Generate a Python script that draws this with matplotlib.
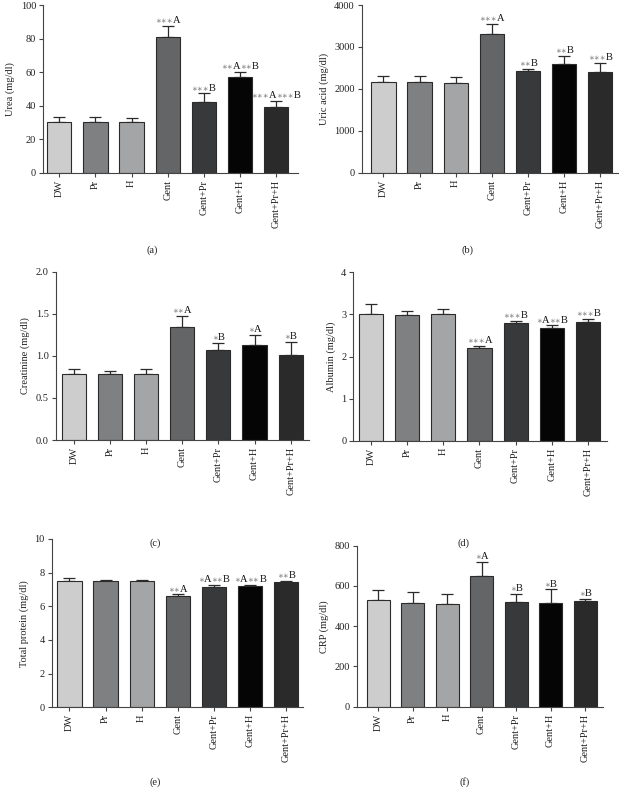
import matplotlib
matplotlib.use("Agg")
import matplotlib.pyplot as plt
from matplotlib.offsetbox import TextArea, HPacker, AnnotationBbox

groups = ["DW", "Pr", "H", "Gent", "Gent+Pr", "Gent+H", "Gent+Pr+H"]
bar_colors = ["#cdcdcd", "#7e8081", "#a3a5a6", "#646567", "#38393b", "#050505", "#2a2a2b"]

urea = [30, 30, 30, 80.7, 42.3, 56.8, 39]
urea_err = [3, 3, 2.5, 7, 5, 3.5, 4]
urea_sig = ["", "", "", "***A", "***B", "**A**B", "***A***B"]

uric = [2170, 2155, 2140, 3305, 2415, 2585, 2400]
uric_err = [135, 150, 140, 250, 65, 205, 215]
uric_sig = ["", "", "", "***A", "**B", "**B", "***B"]

creat = [0.79, 0.78, 0.79, 1.34, 1.07, 1.13, 1.01]
creat_err = [0.05, 0.04, 0.05, 0.13, 0.08, 0.12, 0.16]
creat_sig = ["", "", "", "**A", "*B", "*A", "*B"]

alb = [3.02, 2.99, 3.01, 2.21, 2.79, 2.67, 2.81]
alb_err = [0.22, 0.10, 0.11, 0.04, 0.05, 0.07, 0.08]
alb_sig = ["", "", "", "***A", "***B", "*A**B", "***B"]

tp = [7.52, 7.52, 7.52, 6.63, 7.15, 7.19, 7.45]
tp_err = [0.17, 0.07, 0.07, 0.08, 0.14, 0.07, 0.07]
tp_sig = ["", "", "", "**A", "*A**B", "*A**B", "**B"]

crp = [532, 515, 510, 651, 518, 517, 523]
crp_err = [46, 56, 52, 70, 42, 66, 13]
crp_sig = ["", "", "", "*A", "*B", "*B", "*B"]

W, H = 619, 788
fig = plt.figure(figsize=(W / 100, H / 100), dpi=100)

SERIF = ["Liberation Serif", "DejaVu Serif"]
plt.rcParams["font.family"] = SERIF

panels = [
    (43, 5, 172.7, (-0.45, 6.6), (0, 100), [0, 20, 40, 60, 80, 100], "Urea (mg/dl)",
     urea, urea_err, urea_sig, "(a)", (152, 250)),
    (361.7, 5, 172.7, (-0.6, 6.5), (0, 4000), [0, 1000, 2000, 3000, 4000], "Uric acid (mg/dl)",
     uric, uric_err, uric_sig, "(b)", (468, 250)),
    (55.7, 271.7, 440, (-0.5, 6.5), (0, 2.0), [0.0, 0.5, 1.0, 1.5, 2.0], "Creatinine (mg/dl)",
     creat, creat_err, creat_sig, "(c)", (155, 543)),
    (353.3, 272.3, 441, (-0.49, 6.52), (0, 4), [0, 1, 2, 3, 4], "Albumin (mg/dl)",
     alb, alb_err, alb_sig, "(d)", (464, 543)),
    (51.7, 539, 707.3, (-0.49, 6.47), (0, 10), [0, 2, 4, 6, 8, 10], "Total protein (mg/dl)",
     tp, tp_err, tp_sig, "(e)", (155, 782)),
    (356.7, 545.7, 706.7, (-0.62, 6.53), (0, 800), [0, 200, 400, 600, 800], "CRP (mg/dl)",
     crp, crp_err, crp_sig, "(f)", (465, 782)),
]

spacing = 36.15


def star_area(buf):
    return TextArea(buf, textprops=dict(color="#8a8a8a", fontsize=5, family=["DejaVu Sans"]))


def sig_box(s):
    parts = []
    buf = ""
    for ch in s:
        if ch == "*":
            buf += "\u2217"
        else:
            if buf:
                parts.append(star_area(buf))
                buf = ""
            parts.append(TextArea(ch, textprops=dict(color="#111111", fontsize=7.5,
                                                     family=SERIF)))
    if buf:
        parts.append(star_area(buf))
    return HPacker(children=parts, pad=0, sep=0, align="baseline")


for (left, top, bottom, xlim, ylim, ticks, ylabel, vals, errs, sigs, letter, lpos) in panels:
    sp = 34.5 if letter == "(f)" else spacing
    width_px = (xlim[1] - xlim[0]) * sp
    ax = fig.add_axes([left / W, (H - bottom) / H, width_px / W, (bottom - top) / H])
    x = list(range(len(groups)))
    ax.bar(x, vals, width=0.67, color=bar_colors, edgecolor="#2b2b2b", linewidth=0.8, zorder=2)
    ax.errorbar(x, vals, yerr=[[0] * len(errs), errs], fmt="none", ecolor="#2b2b2b",
                elinewidth=0.9, capsize=4.5, capthick=0.9, zorder=1)
    ax.set_xlim(*xlim)
    ax.set_ylim(*ylim)
    ax.set_yticks(ticks)
    if ylim[1] == 2.0:
        ax.set_yticklabels([f"{t:.1f}" for t in ticks])
    ax.set_xticks(x)
    ax.set_xticklabels(groups, rotation=90)
    for s in ["top", "right"]:
        ax.spines[s].set_visible(False)
    for s in ["left", "bottom"]:
        ax.spines[s].set_color("#444444")
        ax.spines[s].set_linewidth(0.8)
    ax.tick_params(axis="both", labelsize=7.5, colors="#444444", length=3, width=0.8,
                   labelcolor="#222222", pad=2)
    ax.set_ylabel(ylabel, fontsize=7.5, color="#222222", labelpad=4)
    rng = ylim[1] - ylim[0]
    for xi, v, e, s in zip(x, vals, errs, sigs):
        if not s:
            continue
        ab = AnnotationBbox(sig_box(s), (xi, v + e + rng * 0.005), box_alignment=(0.5, 0.0),
                            frameon=False, pad=0, annotation_clip=False)
        ax.add_artist(ab)
    fig.text(lpos[0] / W, 1 - lpos[1] / H, letter, ha="center", va="center", fontsize=7.5,
             color="#222222")

fig.savefig("out.png", dpi=100)
